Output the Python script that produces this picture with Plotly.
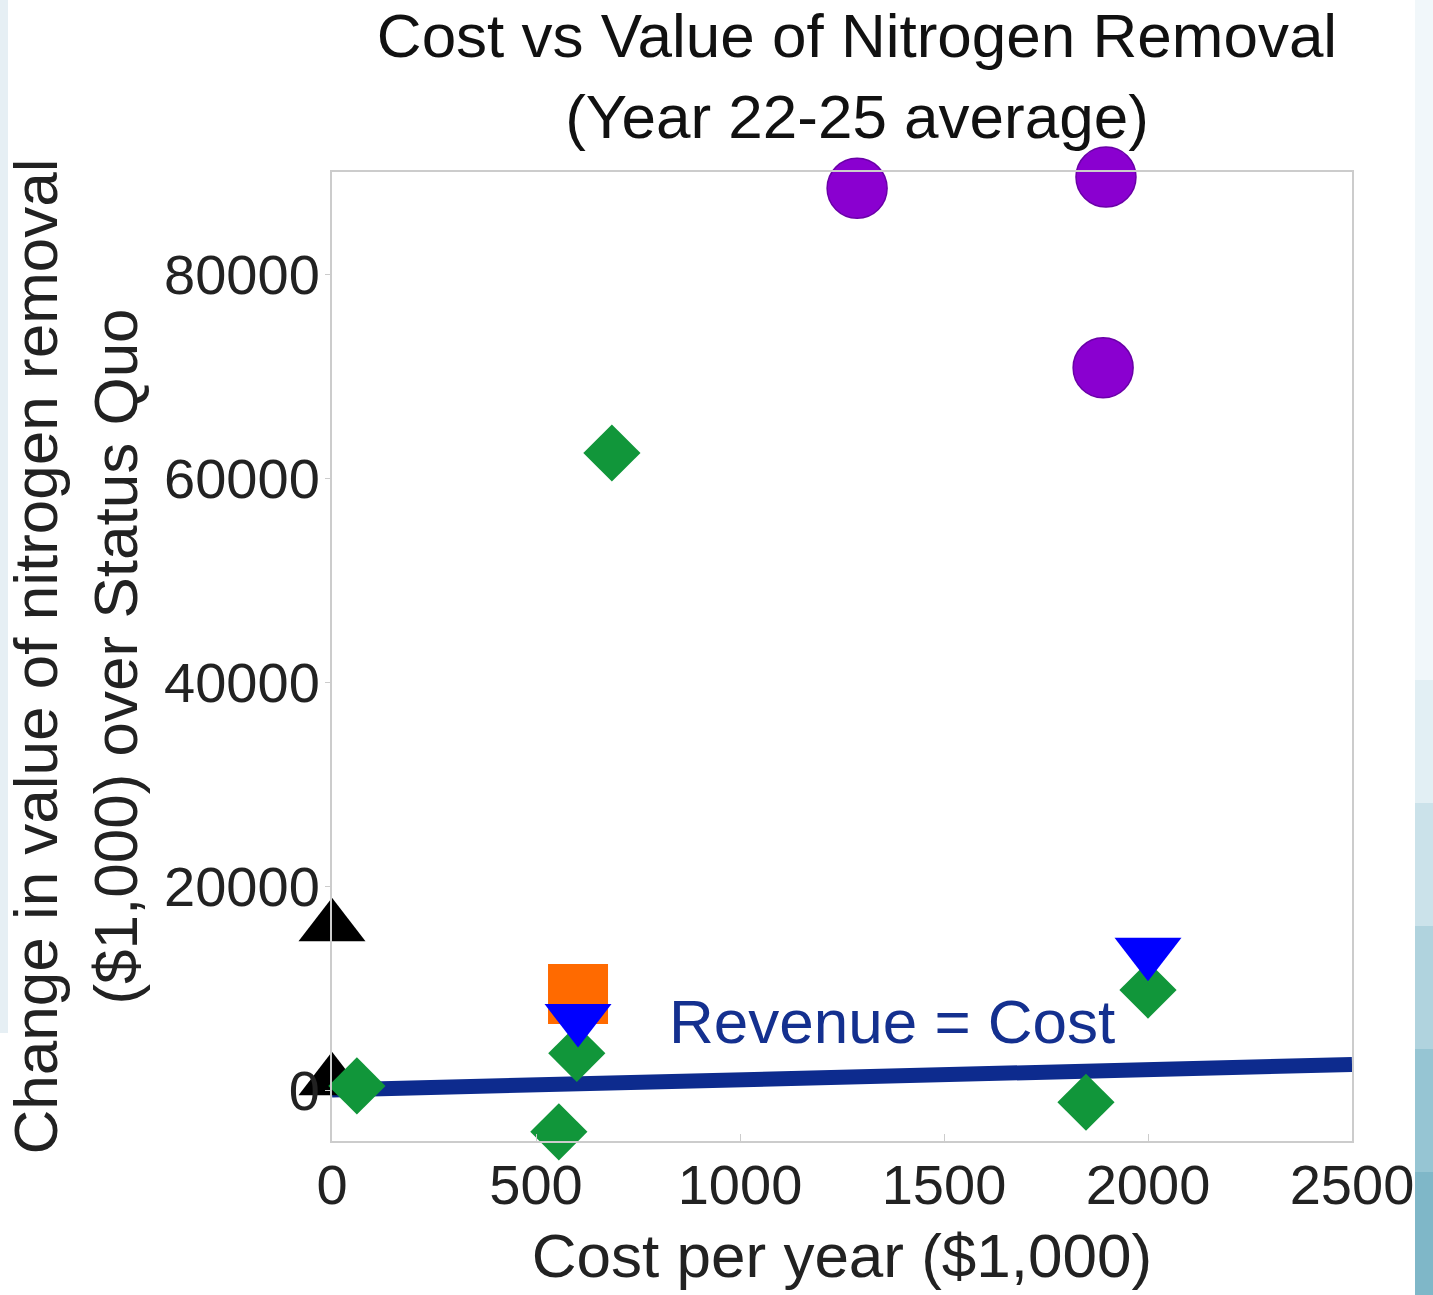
import plotly.graph_objects as go

# ---- data (values in $1,000) ----
circle_x = [1287, 1897, 1890]
circle_y = [88400, 89500, 70800]

diamond_x = [686, 61, 556, 600, 1848, 2000]
diamond_y = [62450, 400, -4100, 3600, -1200, 9800]

tri_up_x = [0, 0]
tri_up_y = [16000, 900]

square_x = [603]
square_y = [9400]

tri_down_x = [603, 2000]
tri_down_y = [7000, 13500]

line_x = [0, 2500]
line_y = [0, 2500]

x_ticks = [0, 500, 1000, 1500, 2000, 2500]
y_ticks = [0, 20000, 40000, 60000, 80000]

label_x, label_y = 1373, 6700

FONT = "Liberation Sans, Arial, sans-serif"
TXT = "#222222"

fig = go.Figure()

fig.add_trace(go.Scatter(x=line_x, y=line_y, mode="lines",
                         line=dict(color="#0d2b8e", width=15),
                         showlegend=False, hoverinfo="skip", cliponaxis=False))

fig.add_trace(go.Scatter(x=tri_up_x, y=tri_up_y, mode="markers",
                         marker=dict(symbol="triangle-up", size=58, color="#000000"),
                         showlegend=False, cliponaxis=False))

fig.add_trace(go.Scatter(x=diamond_x, y=diamond_y, mode="markers",
                         marker=dict(symbol="diamond", size=44, color="#11963a"),
                         showlegend=False, cliponaxis=False))

fig.add_trace(go.Scatter(x=square_x, y=square_y, mode="markers",
                         marker=dict(symbol="square", size=60, color="#ff6a00"),
                         showlegend=False, cliponaxis=False))

fig.add_trace(go.Scatter(x=tri_down_x, y=tri_down_y, mode="markers",
                         marker=dict(symbol="triangle-down", size=58, color="#0000ff"),
                         showlegend=False, cliponaxis=False))

fig.add_trace(go.Scatter(x=circle_x, y=circle_y, mode="markers",
                         marker=dict(symbol="circle", size=60, color="#8a00d0",
                                     line=dict(color="#6a00a8", width=1.5)),
                         showlegend=False, cliponaxis=False))

fig.add_annotation(x=label_x, y=label_y, xref="x", yref="y", text="Revenue = Cost",
                   showarrow=False, font=dict(family=FONT, size=62, color="#14308f"),
                   xanchor="center", yanchor="middle")

# slide background artifacts
fig.add_shape(type="rect", xref="paper", yref="paper", layer="below",
              x0=(1415 - 332) / 1020, x1=(1433 - 332) / 1020, y0=-154 / 969, y1=1172 / 969,
              fillcolor="#f1f7fa", line_width=0)
for i, c in enumerate(["#e2eff4", "#cbe2ea", "#b0d3de", "#96c5d3", "#7fb7c8"]):
    y_top = 680 + i * 123
    fig.add_shape(type="rect", xref="paper", yref="paper", layer="below",
                  x0=(1415 - 332) / 1020, x1=(1433 - 332) / 1020,
                  y0=(1141 - (y_top + 123)) / 969, y1=(1141 - y_top) / 969,
                  fillcolor=c, line_width=0)
fig.add_shape(type="rect", xref="paper", yref="paper", layer="below",
              x0=-332 / 1020, x1=(8 - 332) / 1020, y0=(1141 - 1033) / 969, y1=1172 / 969,
              fillcolor="#e6eff4", line_width=0)

fig.update_layout(
    width=1433, height=1295,
    margin=dict(l=332, r=81, t=172, b=154),
    paper_bgcolor="white", plot_bgcolor="white",
    font=dict(family=FONT, size=56, color=TXT),
    title=dict(text="Cost vs Value of Nitrogen Removal<br>(Year 22-25 average)",
               font=dict(family=FONT, size=62, color="#111111"),
               x=857 / 1433, xanchor="center", xref="container",
               y=1 - 57 / 1295, yanchor="top", yref="container"),
    xaxis=dict(range=[0, 2500], tickvals=x_ticks, ticktext=[str(v) for v in x_ticks],
               showgrid=False, zeroline=False, showline=True, mirror=True,
               linecolor="#cccccc", linewidth=2, ticks="inside", ticklen=7,
               tickcolor="#cccccc", tickfont=dict(size=56, color=TXT),
               ticklabelstandoff=-6,
               title=dict(text="Cost per year ($1,000)", font=dict(size=62, color=TXT),
                          standoff=18)),
    yaxis=dict(range=[-5000, 90000], tickvals=y_ticks, ticktext=[str(v) for v in y_ticks],
               showgrid=False, zeroline=False, showline=True, mirror=True,
               linecolor="#cccccc", linewidth=2, ticks="outside", ticklen=5,
               tickcolor="#cccccc", tickfont=dict(size=56, color=TXT),
               ticklabelstandoff=-6,
               title=dict(text="Change in value of nitrogen removal<br>($1,000) over Status Quo",
                          font=dict(size=62, color=TXT), standoff=6)),
)

fig.write_html("out.html", config={"displayModeBar": False},
               post_script="document.body.style.margin='0';document.body.style.overflow='hidden';")
